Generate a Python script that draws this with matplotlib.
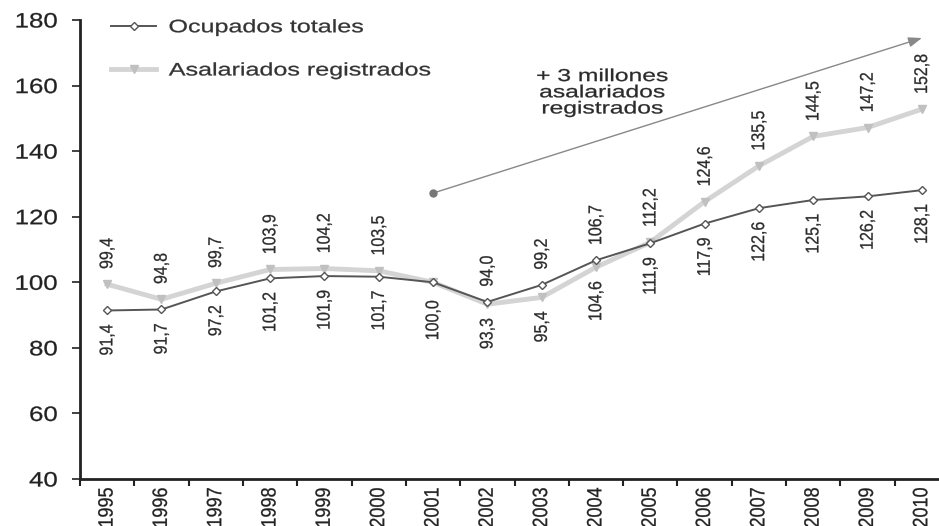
import matplotlib
matplotlib.use("Agg")
import matplotlib.pyplot as plt
from matplotlib.patheffects import AbstractPathEffect
from matplotlib.transforms import Affine2D

plt.rcParams['font.family'] = ['Liberation Sans', 'DejaVu Sans']

years = ["1995", "1996", "1997", "1998", "1999", "2000", "2001", "2002",
         "2003", "2004", "2005", "2006", "2007", "2008", "2009", "2010"]
ocupados = [91.4, 91.7, 97.2, 101.2, 101.9, 101.7, 100.0, 94.0,
            99.2, 106.7, 111.9, 117.9, 122.6, 125.1, 126.2, 128.1]
asalariados = [99.4, 94.8, 99.7, 103.9, 104.2, 103.5, 100.0, 93.3,
               95.4, 104.6, 112.2, 124.6, 135.5, 144.5, 147.2, 152.8]
trend_start = (6, 127.2)
trend_end = (15, 174.5)
trend_text = "+ 3 millones\nasalariados\nregistrados"
yticks = [40, 60, 80, 100, 120, 140, 160, 180]


class HStretch(AbstractPathEffect):
    """Widen glyphs horizontally (in display space) about a chosen edge."""

    def __init__(self, sx, anchor="center", stroke=0.2):
        super().__init__()
        self.sx = sx
        self.anchor = anchor
        self.stroke = stroke

    def draw_path(self, renderer, gc, tpath, affine, rgbFace=None):
        ext = tpath.get_extents(affine)
        if self.anchor == "left":
            cx = ext.x0
        elif self.anchor == "right":
            cx = ext.x1
        else:
            cx = 0.5 * (ext.x0 + ext.x1)
        t = affine + Affine2D().translate(-cx, 0).scale(self.sx, 1).translate(cx, 0)
        gc0 = renderer.new_gc()
        gc0.copy_properties(gc)
        if rgbFace is not None and self.stroke > 0:
            gc0.set_foreground(rgbFace)
            gc0.set_linewidth(self.stroke)
        renderer.draw_path(gc0, tpath, t, rgbFace)
        gc0.restore()


def fmt(v):
    return f"{v:.1f}".replace(".", ",")


fig = plt.figure(figsize=(9.39, 5.26), dpi=100)
ax = fig.add_axes([80 / 939, 1 - 479 / 526, 869 / 939, 459 / 526])

x = list(range(len(years)))

ax.plot(x, asalariados, color="#d4d4d4", lw=3.5, marker="v", ms=6,
        mfc="#c0c0c0", mec="#c0c0c0", label="Asalariados registrados", zorder=2)
ax.plot(x, ocupados, color="#555555", lw=1.4, marker="D", ms=4.5,
        mfc="white", mec="#555555", mew=1.0, label="Ocupados totales", zorder=3)

label_fx = [HStretch(1.15)]
# value labels: higher series above its point, lower series below
for i in x:
    o, a = ocupados[i], asalariados[i]
    if abs(o - a) < 1e-9:
        ax.annotate(fmt(o), (i, o), xytext=(0, -13), textcoords="offset points",
                    rotation=90, ha="center", va="top", fontsize=11.5,
                    color="#2a2a2a", path_effects=label_fx)
        continue
    hi, lo = (a, o) if a > o else (o, a)
    ax.annotate(fmt(hi), (i, hi), xytext=(0, 11), textcoords="offset points",
                rotation=90, ha="center", va="bottom", fontsize=11.5,
                color="#2a2a2a", path_effects=label_fx)
    ax.annotate(fmt(lo), (i, lo), xytext=(0, -10), textcoords="offset points",
                rotation=90, ha="center", va="top", fontsize=11.5,
                color="#2a2a2a", path_effects=label_fx)

# trend arrow with annotation
ax.plot([trend_start[0]], [trend_start[1]], marker="o", ms=5, color="#777777", zorder=4)
ax.annotate("", xy=trend_end, xytext=trend_start,
            arrowprops=dict(arrowstyle="-|>,head_length=0.8,head_width=0.3",
                            color="#888888", lw=1.0, shrinkA=0, shrinkB=0))
ax.text(9.12, 157.8, trend_text, ha="center", va="center", fontsize=12.5,
        color="#2a2a2a", linespacing=1.1, path_effects=[HStretch(1.42)])

ax.set_xlim(-0.5, len(years) - 0.5)
ax.set_ylim(40, 180)
ax.set_yticks(yticks)
ax.set_yticklabels([str(t) for t in yticks], fontsize=15, color="#222222")
ax.set_xticks(x)
ax.set_xticklabels(years, rotation=90, fontsize=13, color="#222222", va="top")
ax.set_xticks([i - 0.5 for i in x] + [len(years) - 0.5], minor=True)
ax.tick_params(axis="x", which="major", length=0, pad=6)
ax.tick_params(axis="x", which="minor", length=5, width=1.5, color="#222222")
ax.tick_params(axis="y", length=6, width=1.2, color="#222222", pad=10)

for t in ax.get_yticklabels():
    t.set_path_effects([HStretch(1.24, "right")])
for t in ax.get_xticklabels():
    t.set_path_effects([HStretch(1.15)])

for side in ("top", "right"):
    ax.spines[side].set_visible(False)
for side in ("left", "bottom"):
    ax.spines[side].set_linewidth(2.0)
    ax.spines[side].set_color("#222222")

handles, labels = ax.get_legend_handles_labels()
leg = ax.legend(handles[::-1], labels[::-1], loc="upper left",
                bbox_to_anchor=(0.017, 1.037), frameon=False, fontsize=13,
                handlelength=2.5, labelspacing=1.45, handletextpad=0.7)
for t in leg.get_texts():
    t.set_color("#333333")
    t.set_path_effects([HStretch(1.39, "left")])

fig.savefig("out.png", dpi=100)
